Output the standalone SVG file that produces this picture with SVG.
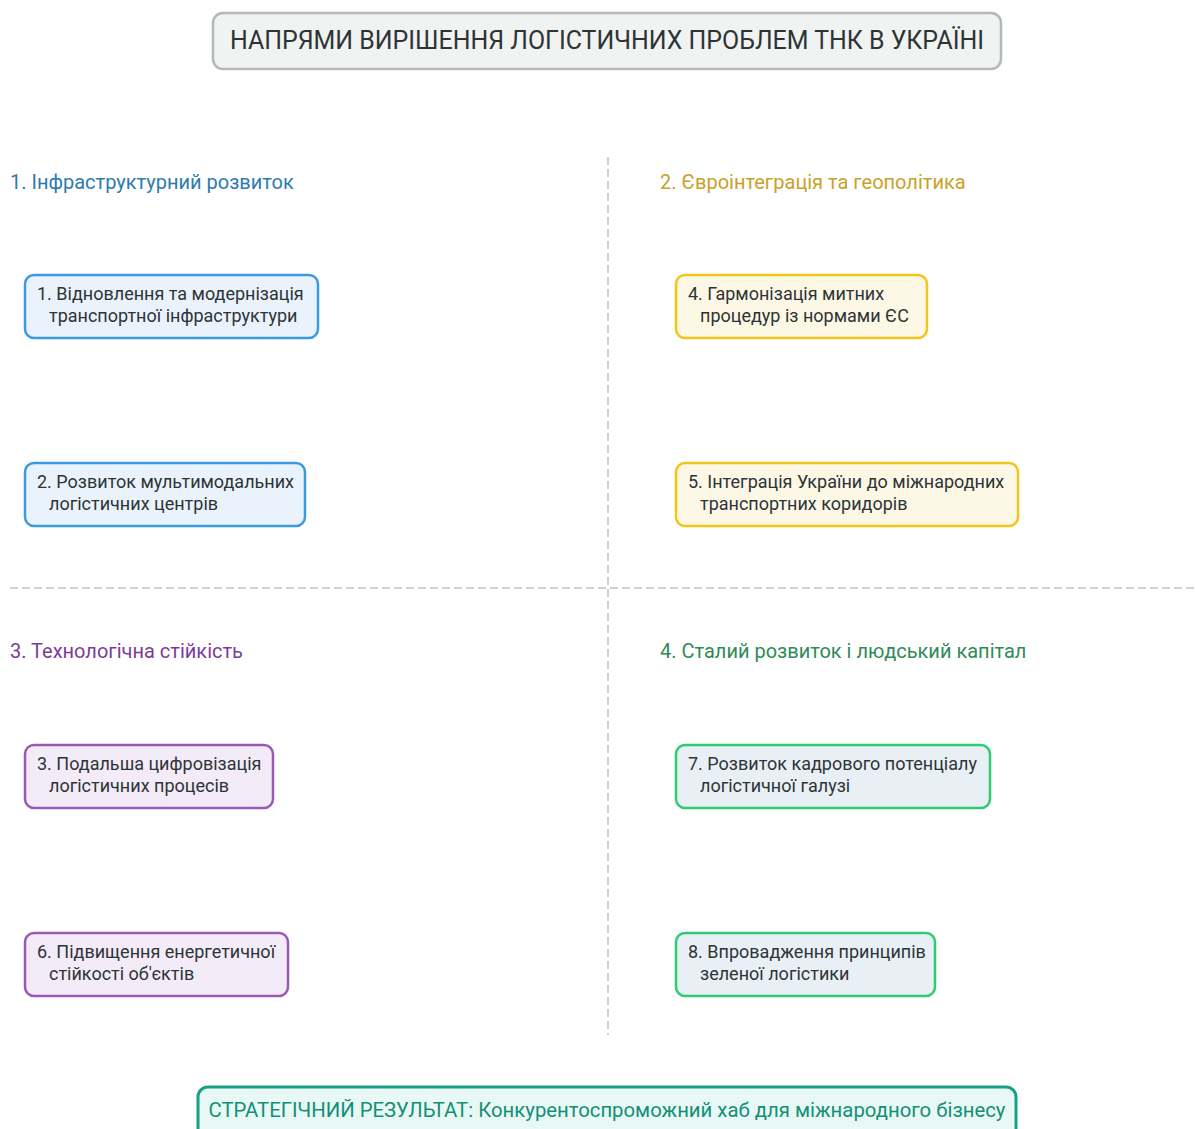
<svg xmlns="http://www.w3.org/2000/svg" width="1195" height="1129" viewBox="0 0 1195 1129">
<style>
text{font-family:Roboto,"Noto Sans","Liberation Sans",sans-serif}
.title{font-size:25px;fill:#2d3436}
.sec{font-size:20px}
.node rect{stroke-width:2.5}
.node text{font-size:18px;fill:#2d3436}
.blue rect{fill:#eaf3fb;stroke:#3b9ae1}
.gold rect{fill:#fdf7e6;stroke:#f2c518}
.purple rect{fill:#f3ebf7;stroke:#9b59b6}
.green rect{fill:#e9f0f5;stroke:#2ecc71}
.div{stroke:#ccd1d5;stroke-width:2;stroke-dasharray:8 4;fill:none}
</style>
<rect width="1195" height="1129" fill="#ffffff"/>
<g id="title">
<rect x="213" y="13" width="788" height="56" rx="10" fill="#f1f3f2" stroke="#b3b8b8" stroke-width="2.5"/>
<text class="title" x="607" y="49" text-anchor="middle" textLength="754" lengthAdjust="spacingAndGlyphs">НАПРЯМИ ВИРІШЕННЯ ЛОГІСТИЧНИХ ПРОБЛЕМ ТНК В УКРАЇНІ</text>
</g>
<g id="dividers">
<line class="div" x1="608" y1="157" x2="608" y2="1035"/>
<line class="div" x1="10" y1="588" x2="1195" y2="588"/>
</g>
<g id="headings">
<text class="sec" x="10" y="189" fill="#2e7bb0">1. Інфраструктурний розвиток</text>
<text class="sec" x="660" y="189" fill="#c9a227">2. Євроінтеграція та геополітика</text>
<text class="sec" x="10" y="658" fill="#7d3c98">3. Технологічна стійкість</text>
<text class="sec" x="660" y="658" fill="#2e8b57">4. Сталий розвиток і людський капітал</text>
</g>
<g id="node1" class="node blue">
<rect x="25" y="275" width="293" height="63" rx="9"/>
<text x="37" y="300">1. Відновлення та модернізація</text>
<text x="49" y="322">транспортної інфраструктури</text>
</g>
<g id="node2" class="node blue">
<rect x="25" y="463" width="280" height="63" rx="9"/>
<text x="37" y="488">2. Розвиток мультимодальних</text>
<text x="49" y="510">логістичних центрів</text>
</g>
<g id="node4" class="node gold">
<rect x="676" y="275" width="251" height="63" rx="9"/>
<text x="688" y="300">4. Гармонізація митних</text>
<text x="700" y="322">процедур із нормами ЄС</text>
</g>
<g id="node5" class="node gold">
<rect x="676" y="463" width="342" height="63" rx="9"/>
<text x="688" y="488">5. Інтеграція України до міжнародних</text>
<text x="700" y="510">транспортних коридорів</text>
</g>
<g id="node3" class="node purple">
<rect x="25" y="745" width="248" height="63" rx="9"/>
<text x="37" y="770">3. Подальша цифровізація</text>
<text x="49" y="792">логістичних процесів</text>
</g>
<g id="node6" class="node purple">
<rect x="25" y="933" width="263" height="63" rx="9"/>
<text x="37" y="958">6. Підвищення енергетичної</text>
<text x="49" y="980">стійкості об'єктів</text>
</g>
<g id="node7" class="node green">
<rect x="676" y="745" width="314" height="63" rx="9"/>
<text x="688" y="770">7. Розвиток кадрового потенціалу</text>
<text x="700" y="792">логістичної галузі</text>
</g>
<g id="node8" class="node green">
<rect x="676" y="933" width="259" height="63" rx="9"/>
<text x="688" y="958">8. Впровадження принципів</text>
<text x="700" y="980">зеленої логістики</text>
</g>
<g id="result">
<rect x="198" y="1087" width="818" height="56" rx="10" fill="#e8f8f5" stroke="#16a085" stroke-width="3"/>
<text x="607" y="1117" text-anchor="middle" font-size="20" fill="#148f77" textLength="797" lengthAdjust="spacingAndGlyphs">СТРАТЕГІЧНИЙ РЕЗУЛЬТАТ: Конкурентоспроможний хаб для міжнародного бізнесу</text>
</g>
</svg>
